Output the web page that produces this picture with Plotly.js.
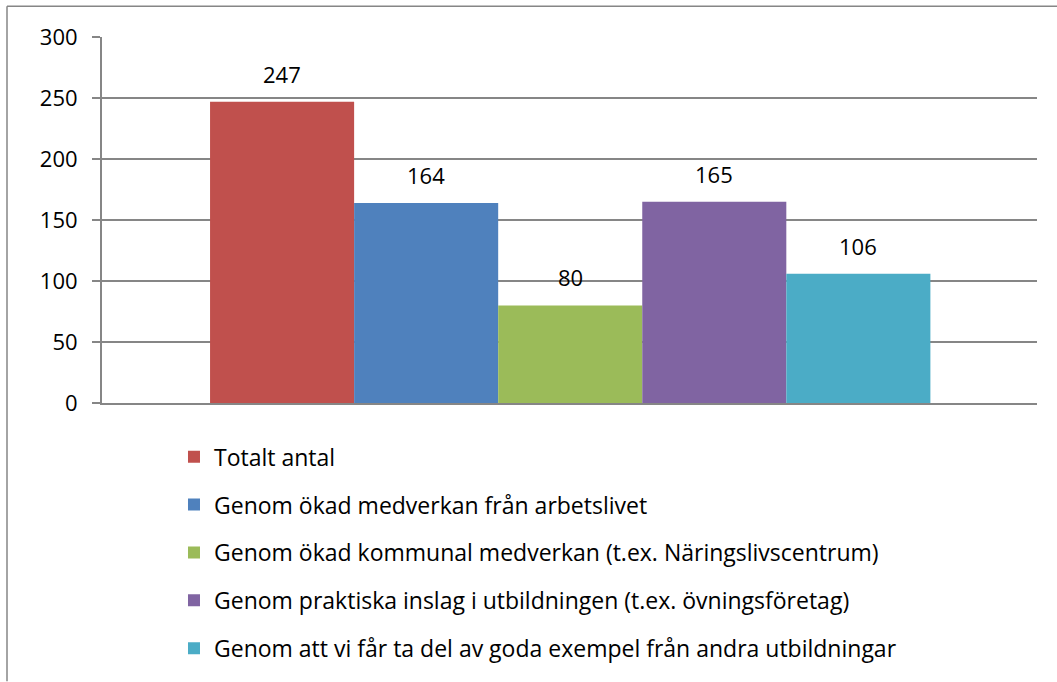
<!DOCTYPE html>
<html>
<head>
<meta charset="utf-8">
<script src="https://cdn.plot.ly/plotly-3.0.1.min.js"></script>
<style>
html,body{margin:0;padding:0;background:#fff;}
#chart{width:1057px;height:682px;}
</style>
</head>
<body>
<div id="chart"></div>
<script>
const seriesNames = [
  "Totalt antal",
  "Genom ökad medverkan från arbetslivet",
  "Genom ökad kommunal medverkan (t.ex. Näringslivscentrum)",
  "Genom praktiska inslag i utbildningen (t.ex. övningsföretag)",
  "Genom att vi får ta del av goda exempel från andra utbildningar"
];
const seriesValues = [247, 164, 80, 165, 106];
const seriesColors = ["#C0504D", "#4F81BD", "#9BBB59", "#8064A2", "#4BACC6"];
const yTickValues = [0, 50, 100, 150, 200, 250, 300];

const FONT = "Open Sans, Noto Sans, sans-serif";

const traces = seriesNames.map((name, i) => ({
  type: "bar",
  name: name,
  x: [i],
  y: [seriesValues[i]],
  width: [1],
  marker: {color: seriesColors[i], line: {width: 0}},
  legendgroup: "g" + i,
  hoverinfo: "skip"
}));

const annotations = seriesValues.map((v, i) => ({
  x: i, y: v, xref: "x", yref: "y",
  text: String(v), showarrow: false,
  yanchor: "middle", yshift: 28,
  font: {family: FONT, size: 22, color: "#000"}
}));

const borderColor = "#868686";
const shapes = [
  {type: "line", xref: "paper", yref: "paper", x0: -0.1016, x1: 1.03, y0: 1.0842, y1: 1.0842,
   line: {color: borderColor, width: 1.5}},
  {type: "line", xref: "paper", yref: "paper", x0: -0.1016, x1: -0.1016, y0: 1.0842, y1: -0.76,
   line: {color: borderColor, width: 1.5}}
];

const layout = {
  width: 1057, height: 682,
  margin: {l: 102, r: 20, t: 37, b: 277},
  paper_bgcolor: "#fff", plot_bgcolor: "#fff",
  barmode: "overlay",
  showlegend: true,
  font: {family: FONT, size: 22, color: "#000"},
  xaxis: {
    range: [-1.25, 5.24], showgrid: false, zeroline: false,
    showticklabels: false, ticks: "", showline: true, linecolor: borderColor, linewidth: 2,
    fixedrange: true
  },
  yaxis: {
    range: [0, 300], tickvals: yTickValues, ticktext: yTickValues.map(String),
    showgrid: true, gridcolor: borderColor, gridwidth: 2,
    zeroline: false, showline: true, linecolor: borderColor, linewidth: 2,
    ticks: "outside", ticklen: 8, tickcolor: borderColor, tickwidth: 2,
    ticklabelstandoff: 10,
    tickfont: {family: FONT, size: 22, color: "#000"},
    fixedrange: true
  },
  legend: {
    orientation: "v", x: 0.077, xanchor: "left", y: -0.088, yanchor: "top",
    traceorder: "grouped", tracegroupgap: 15,
    font: {family: FONT, size: 23, color: "#000"},
    bgcolor: "rgba(0,0,0,0)", borderwidth: 0
  },
  annotations: annotations,
  shapes: shapes
};

Plotly.newPlot("chart", traces, layout, {displayModeBar: false, staticPlot: true});
</script>
</body>
</html>
